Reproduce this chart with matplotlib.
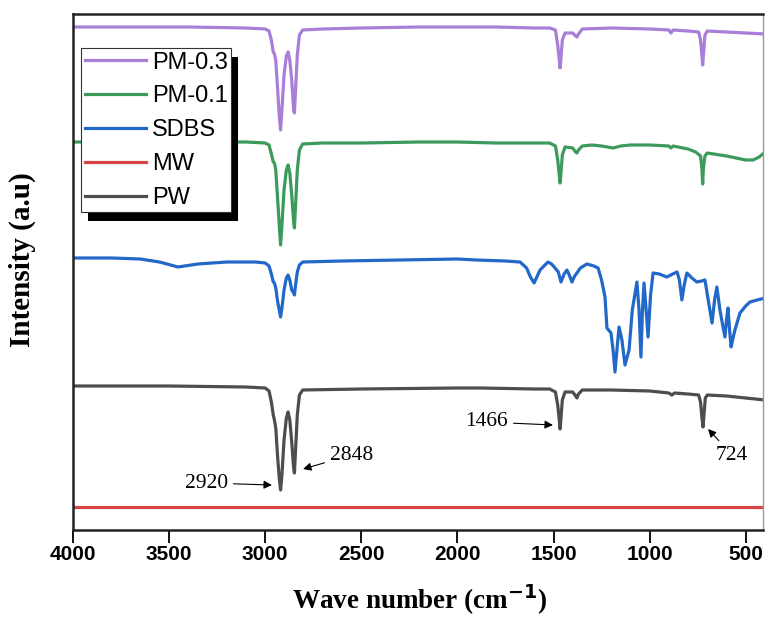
import matplotlib
matplotlib.use("Agg")
import matplotlib.pyplot as plt
from matplotlib.patches import Rectangle
from matplotlib.transforms import IdentityTransform

# FTIR spectra (arbitrary intensity units, stacked)
pm03_wn = [4000, 3700, 3400, 3100, 3000, 2980, 2968, 2958, 2952, 2945, 2935, 2927, 2920, 2913,
           2902, 2890, 2881, 2872, 2862, 2852, 2848, 2842, 2833, 2822, 2805, 2700, 2500, 2200,
           2000, 1800, 1600, 1520, 1490, 1478, 1470, 1466, 1462, 1454, 1440, 1400, 1385, 1378,
           1370, 1350, 1200, 1000, 900, 889, 878, 800, 745, 735, 728, 724, 720, 712, 700, 600,
           500, 400]
pm03_i = [503, 503, 503, 502, 501, 499, 490, 478, 476, 470, 440, 415, 400, 420,
          455, 474, 478, 470, 450, 420, 417, 440, 475, 495, 500, 501, 502, 503,
          503, 503, 502, 502, 500, 485, 470, 462, 470, 490, 497, 497, 494, 493,
          496, 501, 502, 501, 500, 497, 500, 499, 498, 490, 475, 465, 475, 495, 499, 498,
          497, 496]

pm01_wn = [4000, 3500, 3100, 3000, 2980, 2968, 2958, 2952, 2945, 2935, 2927, 2920, 2913, 2902,
           2890, 2881, 2872, 2862, 2852, 2848, 2842, 2833, 2822, 2805, 2700, 2500, 2200, 2000,
           1800, 1600, 1520, 1490, 1478, 1470, 1466, 1462, 1454, 1440, 1400, 1385, 1378, 1370,
           1350, 1300, 1250, 1190, 1150, 1100, 1000, 900, 889, 878, 800, 760, 735, 728, 724,
           720, 712, 700, 600, 500, 462, 430, 400]
pm01_i = [388, 388, 388, 387, 385, 376, 368, 367, 360, 330, 305, 285, 305, 340,
          360, 365, 357, 335, 308, 302, 325, 360, 380, 386, 387, 387, 388, 388,
          387, 387, 387, 384, 370, 355, 347, 355, 375, 383, 382, 378, 377, 380,
          384, 385, 384, 382, 384, 385, 385, 384, 382, 384, 381, 378, 374, 362, 346,
          362, 374, 377, 374, 370, 370, 373, 378]

sdbs_wn = [4000, 3800, 3650, 3550, 3454, 3350, 3200, 3131, 3050, 3000, 2980, 2968, 2958, 2952,
           2945, 2935, 2927, 2920, 2913, 2902, 2890, 2881, 2872, 2862, 2852, 2848, 2842, 2833,
           2822, 2805, 2600, 2300, 2000, 1900, 1750, 1674, 1640, 1620, 1601, 1570, 1529, 1510,
           1492, 1475, 1461, 1445, 1430, 1418, 1404, 1390, 1378, 1360, 1326, 1290, 1268, 1250,
           1232, 1222, 1201, 1190, 1180, 1170, 1159, 1144, 1128, 1107, 1090, 1066, 1055, 1045,
           1037, 1029, 1018, 1008, 995, 982, 950, 910, 880, 857, 845, 832, 820, 806, 780, 754,
           730, 712, 695, 675, 662, 650, 634, 620, 608, 600, 592, 584, 576, 566, 556, 530, 500,
           478, 440, 400]
sdbs_i = [272, 272, 271, 268, 263, 266, 268, 268, 268, 267, 264, 256, 248, 247,
          242, 228, 220, 213, 222, 240, 252, 255, 250, 240, 237, 235, 245, 258,
          265, 268, 269, 270, 271, 270, 269, 268, 262, 253, 247, 260, 268, 266,
          262, 258, 248, 256, 260, 255, 248, 254, 257, 262, 266, 264, 262, 250,
          233, 202, 197, 180, 158, 180, 203, 190, 165, 180, 220, 248, 220, 173,
          220, 247, 220, 193, 235, 257, 256, 253, 256, 258, 250, 230, 245, 257, 252, 248,
          249, 250, 230, 207, 230, 243, 220, 205, 193, 210, 222, 200, 183, 192, 200, 217, 224,
          228, 230, 232]

mw_wn = [4000, 3000, 2000, 1000, 400]
mw_i = [23, 23, 23, 23, 23]

pw_wn = [4000, 3500, 3100, 3000, 2980, 2968, 2958, 2952, 2945, 2935, 2927, 2920, 2913, 2902,
         2890, 2881, 2872, 2862, 2852, 2848, 2842, 2833, 2822, 2805, 2500, 2000, 1882, 1600,
         1520, 1490, 1478, 1470, 1466, 1462, 1454, 1440, 1400, 1385, 1378, 1370, 1350, 1200,
         1000, 900, 884, 870, 800, 745, 735, 728, 722, 718, 710, 700, 600, 500, 400]
pw_i = [144, 144, 143, 142, 139, 128, 115, 110, 102, 72, 52, 40, 55, 90,
        112, 118, 110, 88, 62, 57, 80, 115, 135, 140, 141, 142, 142, 141,
        141, 138, 125, 110, 101, 110, 130, 138, 138, 134, 132, 136, 140, 140,
        139, 137, 135, 137, 136, 135, 128, 113, 103, 113, 132, 135, 134, 132, 130]

# peak labels on the PW curve: (text, text pos, arrow tip)
peak_labels = ["2920", "2848", "1466", "724"]
peak_text_xy = [(3194, 47), (2663, 75), (1737, 108), (571, 75)]
peak_tip_xy = [(2965, 45), (2803, 61), (1503, 105), (696, 101)]
peak_ha = ["right", "left", "right", "center"]

xticks = [4000, 3500, 3000, 2500, 2000, 1500, 1000, 500]

fig = plt.figure(figsize=(7.65, 6.18), dpi=100)
ax = fig.add_axes([73 / 765, 1 - 530 / 618, 690 / 765, 516 / 618])

lw = 2.3
l_pw, = ax.plot(pw_wn, pw_i, color="#4d4d4d", lw=lw, label="PW")
l_mw, = ax.plot(mw_wn, mw_i, color="#d94545", lw=lw, label="MW")
l_sd, = ax.plot(sdbs_wn, sdbs_i, color="#2268c9", lw=lw, label="SDBS")
l_01, = ax.plot(pm01_wn, pm01_i, color="#3b9a5c", lw=lw, label="PM-0.1")
l_03, = ax.plot(pm03_wn, pm03_i, color="#a97ed8", lw=lw, label="PM-0.3")

for txt, t_xy, p_xy, ha in zip(peak_labels, peak_text_xy, peak_tip_xy, peak_ha):
    ax.annotate(txt, xy=p_xy, xytext=t_xy, ha=ha, va="center",
                fontsize=15.5, family="Liberation Serif",
                arrowprops=dict(arrowstyle="-|>", color="k", lw=0.8,
                                shrinkA=2, shrinkB=0, mutation_scale=12))

ax.set_xlim(4000, 410)
ax.set_ylim(0, 516)
ax.set_yticks([])
ax.set_xticks(xticks)
ax.tick_params(axis="x", direction="out", length=9, width=1.3, pad=2,
               labelsize=15)
for lab in ax.get_xticklabels():
    lab.set_fontweight("bold")
    lab.set_family("Liberation Sans")

for side in ["top", "left", "bottom"]:
    ax.spines[side].set_linewidth(1.8)
    ax.spines[side].set_color("#222222")
ax.spines["right"].set_linewidth(1.0)
ax.spines["right"].set_color("#999999")

leg = ax.legend(handles=[l_03, l_01, l_sd, l_mw, l_pw], loc="upper left",
                bbox_to_anchor=(0.0116, 0.934), borderaxespad=0,
                prop={"family": "Liberation Sans", "size": 17},
                handlelength=2.6, handletextpad=0.25, labelspacing=0.5,
                borderpad=0.15, fancybox=False, framealpha=1,
                edgecolor="#333333")
leg.get_frame().set_linewidth(0.8)
leg.set_zorder(6)

fig.text(420 / 765, 1 - 600 / 618, "Wave number (cm$^{\\mathbf{-1}}$)",
         ha="center", va="center", fontsize=19.5, fontweight="bold",
         family="Liberation Serif")
fig.text(22 / 765, 1 - 260 / 618, "Intensity (a.u)", rotation=90,
         ha="center", va="center", fontsize=21, fontweight="bold",
         family="Liberation Serif")

# solid black drop shadow behind the legend
fig.canvas.draw()
bb = leg.get_window_extent()
shadow = Rectangle((bb.x0 + 7, bb.y0 - 9), bb.width, bb.height,
                   transform=IdentityTransform(), facecolor="black",
                   edgecolor="none", zorder=5.5)
ax.add_artist(shadow)

fig.savefig("out.png", dpi=100)
